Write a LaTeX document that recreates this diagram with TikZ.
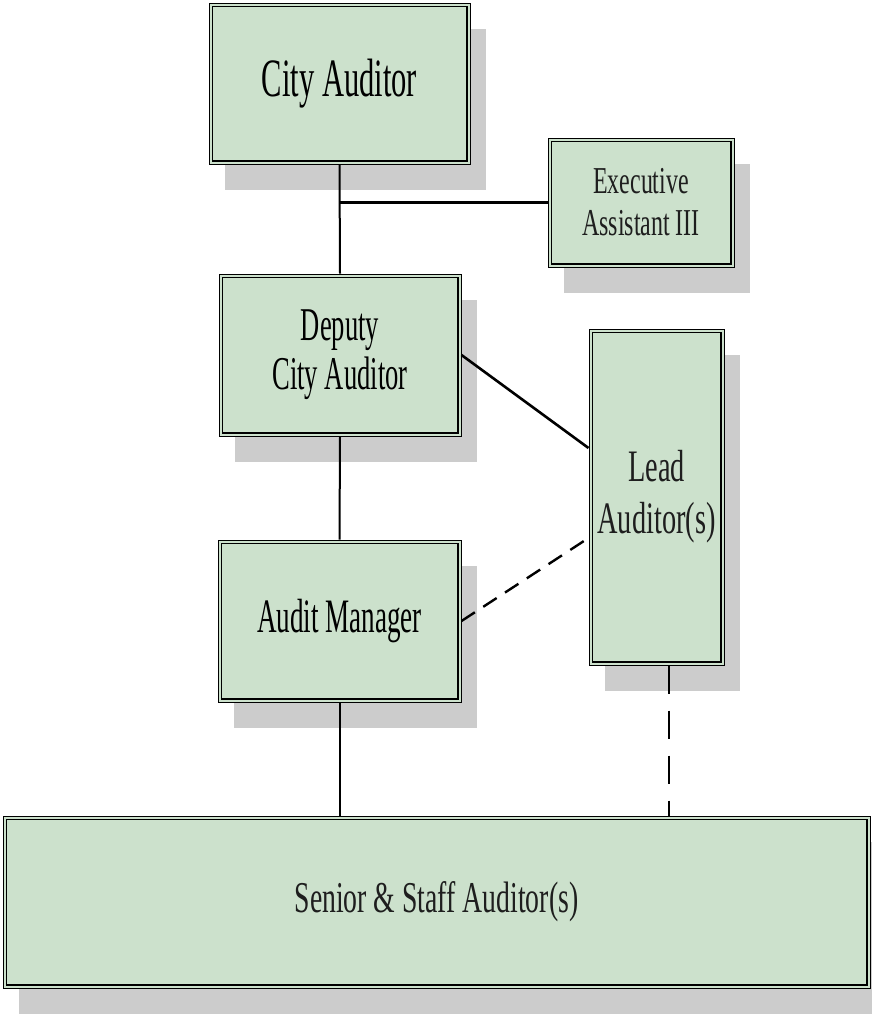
\documentclass[tikz,border=0pt]{standalone}
\usepackage{fontspec}
\newfontfamily\darkfont[FakeStretch=0.565]{Liberation Serif}
\newfontfamily\lightfont[FakeStretch=0.63]{Liberation Serif}
\usetikzlibrary{shadows}
\definecolor{boxgreen}{RGB}{204,225,204}
\definecolor{shadowgray}{RGB}{204,204,204}
\definecolor{lighttext}{RGB}{30,30,30}
\tikzset{
  orgbox/.style={draw=black, line width=1pt, fill=boxgreen, inner sep=0pt, align=center,
    drop shadow={shadow xshift=16pt, shadow yshift=-26pt, fill=shadowgray, opacity=1}},
  innerline/.style={draw=black, line width=1.6pt},
  conn/.style={draw=black, line width=2pt},
  thickconn/.style={draw=black, line width=2.7pt},
  dashconn/.style={draw=black, line width=2.4pt, dash pattern=on 16pt off 10pt},
  vdashconn/.style={draw=black, line width=2pt, dash pattern=on 28pt off 17pt},
}
\begin{document}
\begin{tikzpicture}[x=1pt, y=-1pt]
\useasboundingbox (0,0) rectangle (872,1015);

\node[orgbox, minimum width=261pt, minimum height=161pt,
  font=\darkfont\fontsize{54}{56}\selectfont] (city) at (339.5,83.5) {City Auditor};
\node[orgbox, minimum width=186pt, minimum height=129pt, text=lighttext,
  font=\lightfont\fontsize{38}{42}\selectfont] (exec) at (641,202.5) {Executive\\Assistant III};
\node[orgbox, minimum width=242pt, minimum height=162pt,
  font=\darkfont\fontsize{47}{49}\selectfont] (deputy) at (340,355) {Deputy\\City Auditor};
\node[orgbox, minimum width=135pt, minimum height=336pt, text=lighttext,
  font=\lightfont\fontsize{45}{52}\selectfont] (lead) at (656.5,497) {Lead\\Auditor(s)};
\node[orgbox, minimum width=243pt, minimum height=162pt,
  font=\darkfont\fontsize{48}{50}\selectfont] (am) at (339.5,621) {Audit Manager};
\node[orgbox, minimum width=867pt, minimum height=172pt, text=lighttext,
  font=\lightfont\fontsize{44}{46}\selectfont] (senior) at (436.5,902) {Senior \& Staff Auditor(s)};

\foreach \n in {city,exec,deputy,lead,am,senior}
  \draw[innerline] ([shift={(3.8pt,3.8pt)}]\n.south west) rectangle ([shift={(-3.8pt,-3.8pt)}]\n.north east);

\coordinate (hj) at (city.south |- exec.west);
\coordinate (ld) at (0,448);
\coordinate (lm) at (0,538);
\coordinate (lx) at (669,0);

\draw[conn] (city.south) -- (deputy.north);
\draw[thickconn] (hj) -- (exec.west);
\draw[conn] (deputy.south) -- (am.north);
\draw[conn] (am.south) -- (senior.north -| am.south);
\draw[line width=2.6pt] (deputy.east) -- (lead.west |- ld);
\draw[dashconn] (am.east) -- (lead.west |- lm);
\draw[vdashconn] (lead.south -| lx) -- (senior.north -| lx);
\end{tikzpicture}
\end{document}
